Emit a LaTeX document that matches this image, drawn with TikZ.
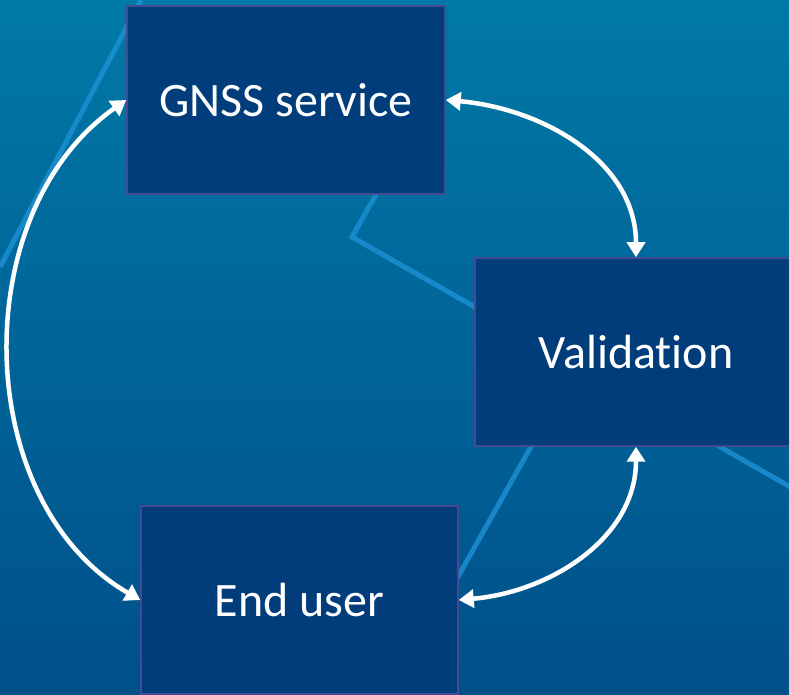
\documentclass[tikz,border=0pt]{standalone}
\usepackage{fontspec}
\setmainfont[RawFeature=-liga]{Carlito}
\usetikzlibrary{arrows.meta}
\definecolor{bg_top}{RGB}{0,121,166}
\definecolor{bg_bottom}{RGB}{0,80,138}
\definecolor{box_fill}{RGB}{0,61,122}
\definecolor{box_edge}{RGB}{66,74,146}
\definecolor{wire}{RGB}{28,143,212}

\begin{document}
\begin{tikzpicture}[x=1pt, y=1pt,
    block/.style = {draw=box_edge, line width=1.5pt, fill=box_fill,
                    minimum width=318pt, minimum height=188pt,
                    text=white, font=\fontsize{48}{56}\selectfont},
    link/.style = {draw=white, line width=4.5pt,
                   {Triangle[length=15pt,width=18pt]}-{Triangle[length=15pt,width=18pt]}},
    wireline/.style = {draw=wire, line width=5pt, opacity=0.85}
    ]
    \useasboundingbox (0,0) rectangle (789,695);
    \clip (0,0) rectangle (789,695);
    \fill[top color=bg_top, bottom color=bg_bottom] (0,0) rectangle (789,695);

    % background wireframe
    \draw[wireline] (141,695) -- (0,428);
    \draw[wireline] (390,525) -- (352,458) -- (850,174);
    \draw[wireline] (560,300) -- (445,95);

    % blocks
    \node[block] (gnss) at (286,595) {GNSS service};
    \node[block, minimum width=322pt] (valid) at (636,343) {Validation};
    \node[block, minimum width=317pt] (user) at (299.5,95) {End user};

    % links
    \draw[link] (gnss.west) to[out=215, in=150] (user.west);
    \draw[link] (gnss.east) to[out=-5, in=90] (valid.north);
    \draw[link] (valid.south) to[out=-90, in=5] (user.east);
\end{tikzpicture}
\end{document}
